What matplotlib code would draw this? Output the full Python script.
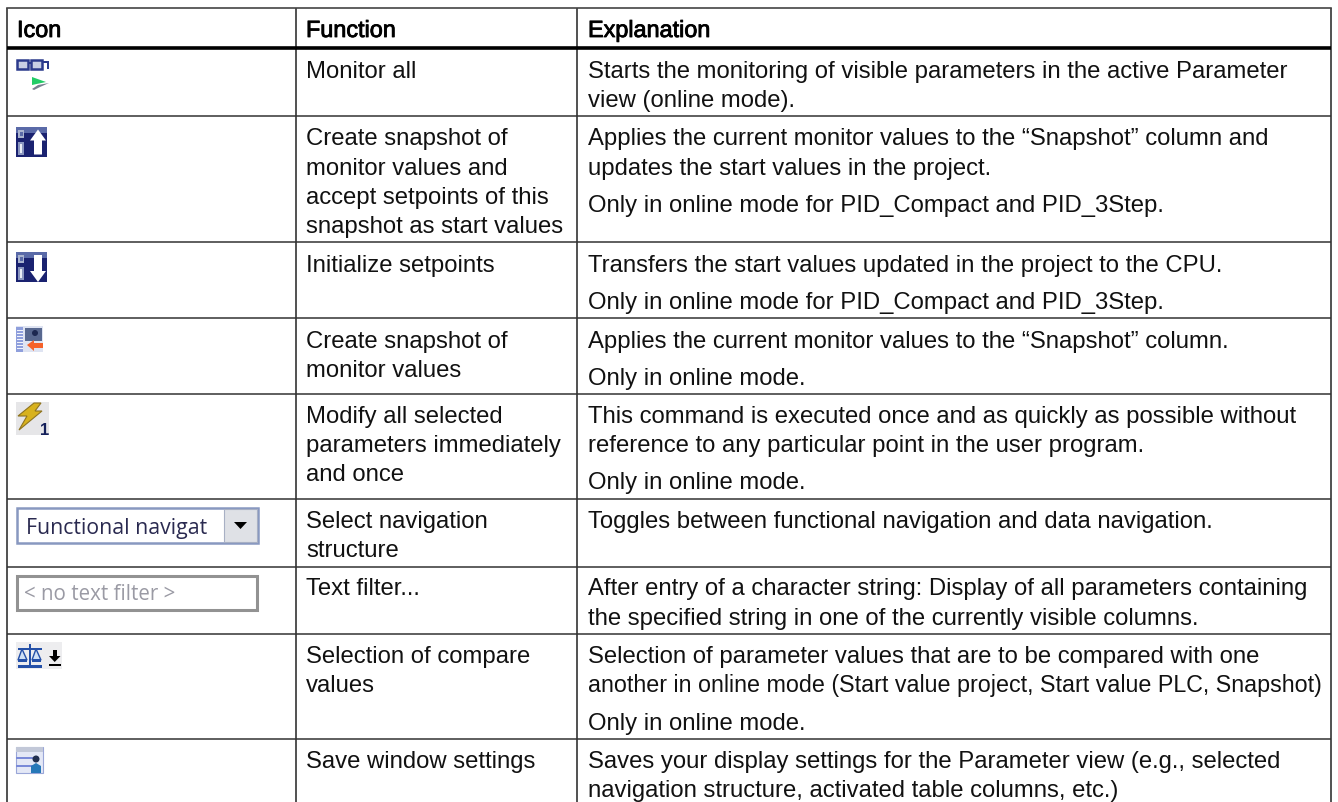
import matplotlib
matplotlib.use('Agg')
import matplotlib.pyplot as plt
import matplotlib.patheffects as pe
from matplotlib.patches import Rectangle, Polygon, Circle

plt.rcParams['font.family'] = ['Liberation Sans', 'DejaVu Sans']

# Table contents
headers = ['Icon', 'Function', 'Explanation']
functions = [
    ['Monitor all'],
    ['Create snapshot of', 'monitor values and', 'accept setpoints of this', 'snapshot as start values'],
    ['Initialize setpoints'],
    ['Create snapshot of', 'monitor values'],
    ['Modify all selected', 'parameters immediately', 'and once'],
    ['Select navigation', 'structure'],
    ['Text filter...'],
    ['Selection of compare', 'values'],
    ['Save window settings'],
]
explanations = [
    ['Starts the monitoring of visible parameters in the active Parameter', 'view (online mode).'],
    ['Applies the current monitor values to the \u201cSnapshot\u201d column and', 'updates the start values in the project.',
     'Only in online mode for PID_Compact and PID_3Step.'],
    ['Transfers the start values updated in the project to the CPU.',
     'Only in online mode for PID_Compact and PID_3Step.'],
    ['Applies the current monitor values to the \u201cSnapshot\u201d column.', 'Only in online mode.'],
    ['This command is executed once and as quickly as possible without',
     'reference to any particular point in the user program.', 'Only in online mode.'],
    ['Toggles between functional navigation and data navigation.'],
    ['After entry of a character string: Display of all parameters containing',
     'the specified string in one of the currently visible columns.'],
    ['Selection of parameter values that are to be compared with one',
     'another in online mode (Start value project, Start value PLC, Snapshot)', 'Only in online mode.'],
    ['Saves your display settings for the Parameter view (e.g., selected',
     'navigation structure, activated table columns, etc.)'],
]

# Layout in image pixels
col_lines = [7, 295.5, 577, 1331]
row_lines = [117, 243, 319, 395, 500, 567.5, 635, 740]
top, header_line, bottom = 9, 48.5, 803
func_base = [[78], [145, 175, 204, 233], [272.5], [348, 377], [423, 452.5, 481.5], [528, 557.5], [595], [663, 692.5], [768]]
expl_base = [[78, 107], [145, 175, 212], [272.5, 309], [348, 385], [423, 452.5, 489], [528], [595, 625], [663, 692.5, 730], [768, 797]]
fs = 17.2

fig = plt.figure(figsize=(13.38, 8.03), dpi=100)
ax = fig.add_axes([0, 0, 1, 1])
ax.set_xlim(0, 1338)
ax.set_ylim(803, 0)
ax.axis('off')

# Grid
for x in col_lines:
    ax.plot([x, x], [top, bottom], color='#222222', lw=1.1, solid_capstyle='butt')
ax.plot([col_lines[0], col_lines[-1]], [top, top], color='#444444', lw=1.2)
ax.plot([col_lines[0], col_lines[-1]], [header_line, header_line], color='black', lw=2.6, solid_capstyle='butt')
for y in row_lines:
    ax.plot([col_lines[0], col_lines[-1]], [y, y], color='#333333', lw=1.1, solid_capstyle='butt')

# Text
head_x = [17, 306, 588]
for x, h in zip(head_x, headers):
    ax.text(x, 38, h, fontsize=fs * 0.98, color='black', va='baseline', ha='left',
            path_effects=[pe.withStroke(linewidth=0.6, foreground='black')])
for lines, bases in zip(functions, func_base):
    for s, y in zip(lines, bases):
        ax.text(306, y, s, fontsize=fs, color='#111111', va='baseline', ha='left')
for lines, bases in zip(explanations, expl_base):
    for s, y in zip(lines, bases):
        # this one line is set tighter in the original
        size = 16.75 if s.startswith('another') else fs
        ax.text(588, y, s, fontsize=size, color='#111111', va='baseline', ha='left')


def rect(x, y, w, h, color, **kw):
    ax.add_patch(Rectangle((x, y), w, h, facecolor=color, edgecolor=kw.pop('edge', 'none'), **kw))


# Icon 1: glasses and green arrow
for x0 in (17, 31):
    rect(x0, 61, 11, 9, '#c8cfe4', edge='#2b3a8c', lw=1.8)
rect(28, 63, 3, 2, '#2b3a8c')
rect(42, 62, 7, 2, '#2b3a8c')
rect(47, 62, 2, 8, '#2b3a8c')
ax.add_patch(Polygon([(32, 78), (32, 86), (46, 83)], facecolor='#22cc66'))
ax.add_patch(Polygon([(32, 90), (38, 86), (49, 84), (40, 88), (34, 91)], facecolor='#777f90'))

# Icons 2 and 3: arrow up / arrow down
for y0, up in ((127.5, True), (253, False)):
    rect(16, y0, 31, 30, '#1a2270')
    rect(16, y0, 31, 6, '#5a6aa8')
    rect(18, y0 + 3, 6, 8, '#aab4d0')
    rect(19.5, y0 + 5, 3, 4, '#5a6aa8')
    rect(18, y0 + 15, 6, 13, '#8a96c0')
    rect(20, y0 + 17, 2, 9, '#e8ecf5')
    if up:
        ax.add_patch(Polygon([(38, y0 + 3), (46, y0 + 14), (42, y0 + 14), (42, y0 + 28),
                              (34, y0 + 28), (34, y0 + 14), (30, y0 + 14)], facecolor='white'))
    else:
        ax.add_patch(Polygon([(38, y0 + 30), (46, y0 + 19), (42, y0 + 19), (42, y0 + 3),
                              (34, y0 + 3), (34, y0 + 19), (30, y0 + 19)], facecolor='white'))

# Icon 4: snapshot with orange arrow
rect(16, 327, 27, 26, '#dfe4f2')
rect(16, 328, 7, 25, '#8f9fdc')
for y in range(331, 352, 3):
    rect(17, y, 6, 1.2, '#f2f4fb')
rect(25, 329, 17, 13, '#58688f')
ax.add_patch(Circle((35, 334), 3, facecolor='#1c2850'))
ax.add_patch(Polygon([(27, 346), (34, 341), (34, 344), (43, 344), (43, 349), (34, 349), (34, 352)], facecolor='#f5622a'))

# Icon 5: lightning and 1
rect(16, 403, 33, 33, '#e6e6e8')
ax.add_patch(Polygon([(34, 404), (41, 404), (35, 412), (42, 412), (19, 431), (27, 417), (18, 417)],
                     facecolor='#d8b21e', edgecolor='#8f7420', lw=0.8))
ax.text(44.5, 435, '1', fontsize=12, fontweight='bold', color='#14205a', ha='center', va='baseline')

# Dropdown
rect(16.5, 509, 241, 35, 'white', edge='#8898c0', lw=1.8)
rect(224, 510, 33, 33, '#dfe1e6', edge='#a8b0c4', lw=0.8)
ax.add_patch(Polygon([(234, 523), (247, 523), (240.5, 530)], facecolor='black'))
drop = ax.text(26, 534, 'Functional navigat', fontsize=15.3, family='Open Sans', color='#2a2a50', va='baseline', ha='left')
drop.set_clip_path(Rectangle((16, 505), 206, 42, transform=ax.transData))

# Text filter box
rect(17, 577, 240, 34, 'white', edge='#929292', lw=2.2)
ax.text(24, 600, '< no text filter >', fontsize=14.8, family='Open Sans', color='#9a9aa4', va='baseline', ha='left')

# Icon 8: scales and download arrow
rect(16, 643, 46, 27, '#ededef')
rect(29, 645, 2, 21, '#2450a8')
rect(18, 666, 24, 2.5, '#2450a8')
rect(18, 649, 24, 1.5, '#2450a8')
for x0 in (18, 32):
    ax.add_patch(Polygon([(x0 + 4, 650), (x0, 661), (x0 + 9, 661)], facecolor='#cfe0f5', edgecolor='#2450a8', lw=1))
    rect(x0, 660, 9, 3, '#2450a8')
ax.add_patch(Polygon([(49, 657), (60.5, 657), (54.7, 663)], facecolor='black'))
rect(52.5, 651, 4.5, 7, 'black')
rect(48.5, 664.5, 12.5, 2.5, 'black')

# Icon 9: window with user
rect(16, 748, 27, 26, '#e4e8f6', edge='#9aa6d8', lw=0.8)
rect(16, 748, 27, 5, '#c2c8d8')
rect(16, 758, 19, 1.5, '#7a8ad8')
rect(16, 766, 19, 1.5, '#7a8ad8')
ax.add_patch(Circle((36, 760), 3.5, facecolor='#223050'))
ax.add_patch(Polygon([(31, 774), (31, 767), (36, 764), (41, 767), (41, 774)], facecolor='#2678b8'))

fig.savefig('out.png', dpi=100)
